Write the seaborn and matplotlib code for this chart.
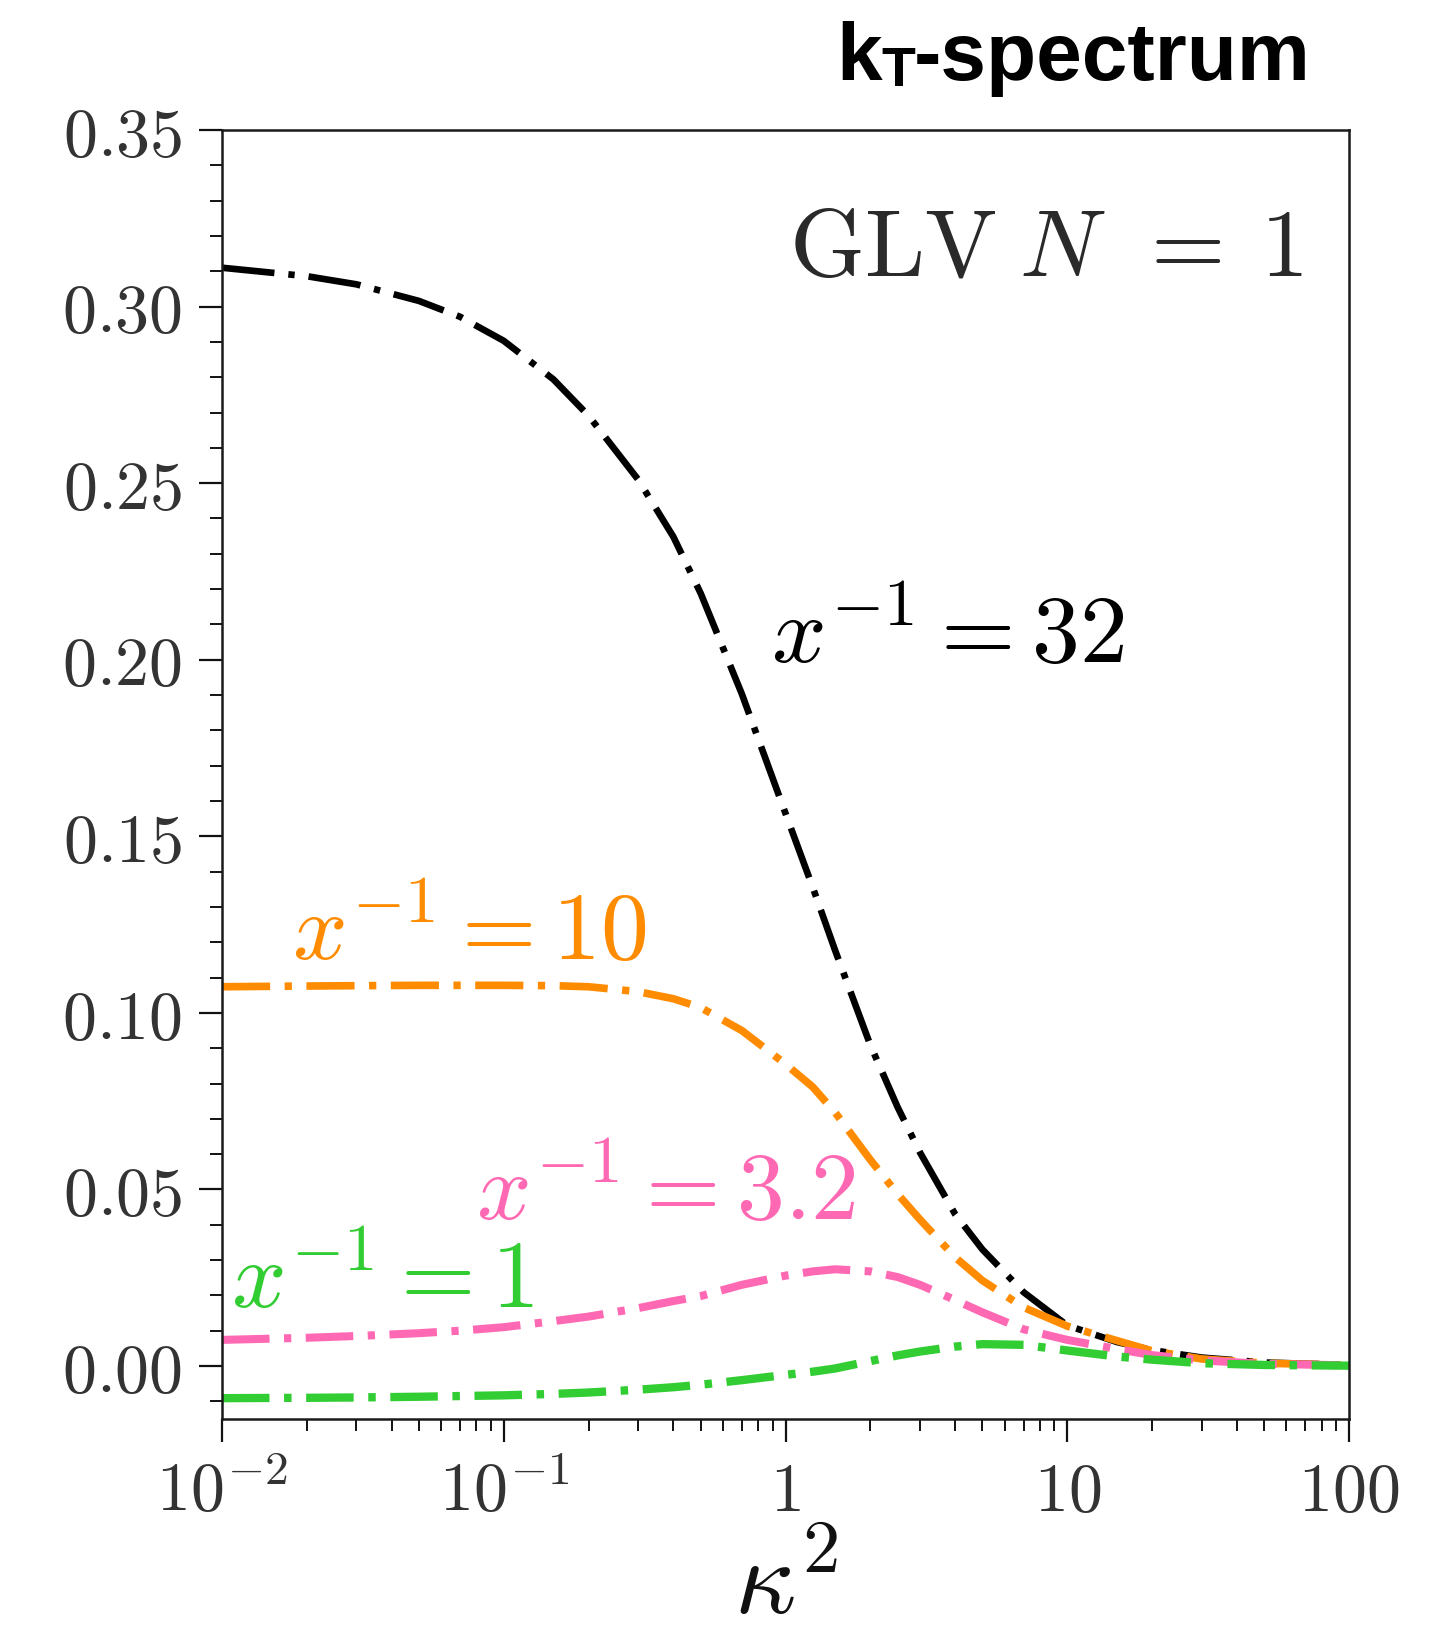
import numpy as np
import pandas as pd
import matplotlib
matplotlib.use("Agg")
import matplotlib.pyplot as plt
import matplotlib.ticker as mticker
import seaborn as sns

# kappa^2 sampling grid (shared by all curves)
kappa2 = [0.01, 0.02, 0.03, 0.05, 0.07, 0.1, 0.15, 0.2, 0.3, 0.4, 0.5, 0.7,
          1.0, 1.25, 1.5, 2.0, 2.5, 3.0, 4.0, 5.0, 7.0, 10.0, 15.0, 20.0,
          30.0, 50.0, 100.0]

# GLV N=1 kT-spectrum for several inverse momentum fractions
spec_x32 = [0.3110, 0.3086, 0.3063, 0.3016, 0.2971, 0.2903, 0.2794, 0.2691,
            0.2510, 0.2348, 0.2188, 0.1903, 0.1565, 0.1355, 0.1177, 0.0909,
            0.0733, 0.0605, 0.0430, 0.0330, 0.0209, 0.0115, 0.0068, 0.0045,
            0.0024, 0.0010, 0.0003]
spec_x10 = [0.1074, 0.1076, 0.1077, 0.1078, 0.1078, 0.1078, 0.1077, 0.1074,
            0.1060, 0.1040, 0.1015, 0.0950, 0.0855, 0.0790, 0.0718, 0.0584,
            0.0487, 0.0415, 0.0308, 0.0242, 0.0166, 0.0113, 0.0072, 0.0043,
            0.0020, 0.0008, 0.0002]
spec_x3p2 = [0.0074, 0.0080, 0.0085, 0.0093, 0.0100, 0.0110, 0.0127, 0.0140,
             0.0164, 0.0184, 0.0198, 0.0230, 0.0256, 0.0268, 0.0274, 0.0268,
             0.0252, 0.0230, 0.0187, 0.0152, 0.0104, 0.0074, 0.0048, 0.0031,
             0.0016, 0.0006, 0.0002]
spec_x1 = [-0.0091, -0.0090, -0.0089, -0.0087, -0.0085, -0.0083, -0.0079,
           -0.0075, -0.0067, -0.0060, -0.0053, -0.0040, -0.0025, -0.0016,
           -0.0007, 0.0014, 0.0030, 0.0041, 0.0055, 0.0062, 0.0060, 0.0044,
           0.0027, 0.0018, 0.0008, 0.0003, 0.0001]

series_names = ["32", "10", "3.2", "1"]
series_values = [spec_x32, spec_x10, spec_x3p2, spec_x1]
series_colors = ["#000000", "#ff8c00", "#ff69b4", "#32cd32"]
series_lw = [4.8, 5.5, 5.8, 6.0]
series_dashes = [(7.9, 2.1, 0.95, 2.1), (6.3, 1.9, 0.95, 1.9),
                 (5.9, 1.8, 0.9, 1.8), (5.7, 1.75, 0.9, 1.75)]

# curve annotations: (kappa^2, value)
label_pos = [(0.886, 0.199), (0.0177, 0.115), (0.080, 0.0413), (0.0108, 0.0164)]

xtick_vals = [0.01, 0.1, 1, 10, 100]
xtick_labels = [r"$10^{-2}$", r"$10^{-1}$", r"$1$", r"$10$", r"$100$"]
ytick_vals = [0.00, 0.05, 0.10, 0.15, 0.20, 0.25, 0.30, 0.35]

sns.set_style("ticks")
plt.rcParams["font.family"] = ["DejaVu Serif"]
plt.rcParams["mathtext.fontset"] = "cm"
plt.rcParams["axes.linewidth"] = 1.8

frames = []
for name, vals in zip(series_names, series_values):
    frames.append(pd.DataFrame({"kappa2": kappa2, "spec": vals, "xinv": name}))
df = pd.concat(frames, ignore_index=True)

fig = plt.figure(figsize=(14.44, 16.35), dpi=100)
ax = fig.add_axes([222 / 1444, 1 - 1419 / 1635, 1127 / 1444, 1289 / 1635])

for name, col, lw, dsh in zip(series_names, series_colors, series_lw, series_dashes):
    sub = df[df["xinv"] == name]
    sns.lineplot(data=sub, x="kappa2", y="spec", ax=ax, color=col, lw=lw,
                 estimator=None, sort=True, legend=False)
    ax.lines[-1].set_dashes(dsh)

ax.set_xscale("log")
ax.set_xlim(0.01, 100)
ax.set_ylim(-0.015, 0.35)

ax.set_xticks(xtick_vals)
ax.set_xticklabels(xtick_labels)
ax.xaxis.set_minor_locator(mticker.LogLocator(base=10, subs=np.arange(2, 10)))
ax.xaxis.set_minor_formatter(mticker.NullFormatter())
ax.set_yticks(ytick_vals)
ax.set_yticklabels([rf"${v:.2f}$" for v in ytick_vals])
ax.yaxis.set_minor_locator(mticker.MultipleLocator(0.01))

tick_col = "#333333"
ax.tick_params(axis="both", which="major", direction="out", length=16.5,
               width=1.6, labelsize=49, colors="#111111", labelcolor=tick_col)
ax.tick_params(axis="both", which="minor", direction="out", length=8.5,
               width=1.4, colors="#111111")
ax.tick_params(axis="x", which="major", pad=13)
ax.tick_params(axis="y", which="major", pad=12)
for sp in ax.spines.values():
    sp.set_visible(True)
    sp.set_color("#1a1a1a")

ax.set_xlabel(r"$\kappa^2$", fontsize=77, color="#111111", labelpad=5)
ax.set_ylabel("")

for (kx, ky), name, col in zip(label_pos, series_names, series_colors):
    ax.text(kx, ky, rf"$x^{{-1}} = {name}$", color=col, fontsize=69,
            ha="left", va="baseline")

ax.text(0.959, 0.8875, r"$\mathrm{GLV}\;N\;\,=\:1$", transform=ax.transAxes,
        fontsize=69, color="#2a2a2a", ha="right", va="baseline")

# bold sans heading with subscript T
head_font = ["Liberation Sans", "DejaVu Sans"]
fig.text(836 / 1444, 1 - 80 / 1635, "k", fontsize=59, fontweight="bold",
         family=head_font, color="black", ha="left", va="baseline")
fig.text(881 / 1444, 1 - 86 / 1635, "T", fontsize=40, fontweight="bold",
         family=head_font, color="black", ha="left", va="baseline")
fig.text(914 / 1444, 1 - 80 / 1635, "-spectrum", fontsize=59, fontweight="bold",
         family=head_font, color="black", ha="left", va="baseline")

fig.savefig("out.png", dpi=100)
